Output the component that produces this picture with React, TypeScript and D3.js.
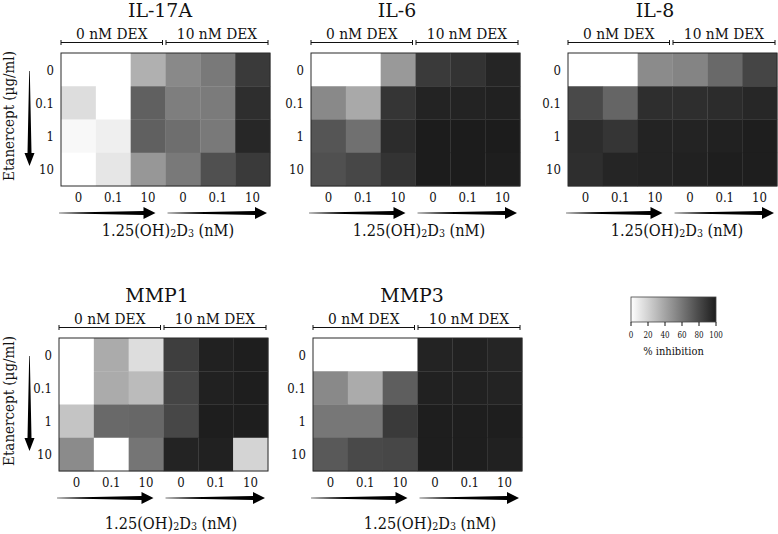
import React from "react";
import * as d3 from "d3";

// ---------- data ----------
const rowLabels = ["0", "0.1", "1", "10"]; // Etanercept (µg/ml)
const colLabels = ["0", "0.1", "10", "0", "0.1", "10"]; // 1.25(OH)2D3 (nM)
const dexGroups = ["0 nM DEX", "10 nM DEX"];
const legendTicks = [0, 20, 40, 60, 80, 100];

// % inhibition, rows = etanercept, cols = D3 within DEX groups
const il17a = [
  [0, 0, 35, 52, 59, 87],
  [15, 0, 70, 57, 58, 92],
  [3, 7, 70, 64, 59, 95],
  [0, 11, 46, 59, 77, 87],
];
const il6 = [
  [0, 0, 45, 87, 90, 96],
  [52, 38, 89, 97, 97, 98],
  [75, 63, 93, 100, 100, 100],
  [77, 81, 90, 100, 100, 99],
];
const il8 = [
  [0, 0, 51, 54, 66, 82],
  [80, 68, 92, 92, 93, 95],
  [93, 89, 97, 97, 98, 99],
  [92, 96, 97, 98, 99, 99],
];
const mmp1 = [
  [0, 37, 15, 85, 98, 99],
  [0, 37, 30, 82, 98, 99],
  [26, 66, 67, 81, 99, 99],
  [51, 0, 61, 97, 98, 19],
];
const mmp3 = [
  [0, 0, 0, 97, 98, 96],
  [52, 37, 71, 98, 98, 97],
  [60, 60, 87, 99, 99, 99],
  [73, 80, 81, 99, 99, 98],
];

const panelNames = ["IL-17A", "IL-6", "IL-8", "MMP1", "MMP3"];
const panelValues = [il17a, il6, il8, mmp1, mmp3];

// ---------- layout ----------
const W = 778;
const H = 534;
const cellW = 209 / 6;
const cellH = 133 / 4;
const layout = [
  { x: 61, y: 53, titleX: 160, axisX: 168, axisDy: 183, showY: true },
  { x: 311, y: 53, titleX: 397, axisX: 419, axisDy: 183, showY: false },
  { x: 568, y: 53, titleX: 655, axisX: 677, axisDy: 183, showY: false },
  { x: 59, y: 338, titleX: 157, axisX: 171, axisDy: 191, showY: true },
  { x: 313, y: 338, titleX: 412, axisX: 430, axisDy: 191, showY: false },
];

const FONT = '"DejaVu Serif", "Liberation Serif", serif';
const INK = "#111";

const color = d3
  .scaleLinear<string>()
  .domain([0, 100])
  .range(["#ffffff", "#1c1c1c"])
  .interpolate(d3.interpolateRgb);

function hArrow(x1: number, x2: number, y: number) {
  const hl = 12;
  const hh = 6;
  const xh = x2 - hl;
  return `M${x1},${y - 0.3} L${xh},${y - 2} L${xh},${y - hh} L${x2},${y} L${xh},${y + hh} L${xh},${y + 2} L${x1},${y + 0.3} Z`;
}
function vArrow(x: number, y1: number, y2: number) {
  const hl = 13;
  const hh = 5;
  const yh = y2 - hl;
  return `M${x - 0.3},${y1} L${x - 2},${yh} L${x - hh},${yh} L${x},${y2} L${x + hh},${yh} L${x + 2},${yh} L${x + 0.3},${y1} Z`;
}

type TProps = {
  x: number;
  y: number;
  size: number;
  sx?: number;
  anchor?: "start" | "middle" | "end";
  rotate?: number;
  children: React.ReactNode;
};
function T({ x, y, size, sx = 1, anchor = "middle", rotate, children }: TProps) {
  const tr = `translate(${x},${y})${rotate ? ` rotate(${rotate})` : ""} scale(${sx},1)`;
  return (
    <text transform={tr} textAnchor={anchor} fontSize={size} fill={INK} style={{ fontFamily: FONT }}>
      {children}
    </text>
  );
}

function Panel({ idx }: { idx: number }) {
  const L = layout[idx];
  const values = panelValues[idx];
  const w = cellW * colLabels.length;
  const h = cellH * rowLabels.length;
  const xs = d3
    .scaleBand<number>()
    .domain(d3.range(colLabels.length))
    .range([L.x, L.x + w]);
  const ys = d3
    .scaleBand<number>()
    .domain(d3.range(rowLabels.length))
    .range([L.y, L.y + h]);
  const mid = L.x + w / 2;
  const brackets = [
    [L.x, mid - 3],
    [mid + 0.5, L.x + w - 2],
  ];
  const arrows = [
    [L.x - 2, mid - 10],
    [mid + 2, L.x + w - 3],
  ];
  return (
    <g>
      <T x={L.titleX} y={L.y - 36} size={18} sx={1.05}>
        {panelNames[idx]}
      </T>
      {brackets.map(([a, b], i) => (
        <g key={"b" + i}>
          <line x1={a} x2={b} y1={L.y - 10.5} y2={L.y - 10.5} stroke={INK} strokeWidth={1} />
          <line x1={a} x2={a} y1={L.y - 13} y2={L.y - 8} stroke={INK} strokeWidth={1} />
          <line x1={b} x2={b} y1={L.y - 13} y2={L.y - 8} stroke={INK} strokeWidth={1} />
          <T x={(a + b) / 2} y={L.y - 14} size={15} sx={0.92}>
            {dexGroups[i]}
          </T>
        </g>
      ))}
      {values.map((row, r) =>
        row.map((v, c) => (
          <rect
            key={r + "-" + c}
            x={xs(c)}
            y={ys(r)}
            width={xs.bandwidth() + 0.3}
            height={ys.bandwidth() + 0.3}
            fill={color(v)}
          />
        ))
      )}
      <rect x={L.x} y={L.y} width={w} height={h} fill="none" stroke="#2a2a2a" strokeWidth={1} />
      {rowLabels.map((t, r) => (
        <T
          key={"r" + r}
          x={L.x - 7}
          y={(ys(r) as number) + ys.bandwidth() / 2 + 5}
          size={13.5}
          sx={0.87}
          anchor="end"
        >
          {t}
        </T>
      ))}
      {colLabels.map((t, c) => (
        <T
          key={"c" + c}
          x={(xs(c) as number) + xs.bandwidth() / 2}
          y={L.y + h + 16}
          size={13.5}
          sx={0.87}
        >
          {t}
        </T>
      ))}
      {arrows.map(([a, b], i) => (
        <path key={"a" + i} d={hArrow(a, b, L.y + 160)} fill="#000" />
      ))}
      <T x={L.axisX} y={L.y + L.axisDy} size={16} sx={0.91}>
        1.25(OH)
        <tspan fontSize={10.5} dy={1}>2</tspan>
        <tspan dy={-1}>D</tspan>
        <tspan fontSize={10.5} dy={1}>3</tspan>
        <tspan dy={-1}> (nM)</tspan>
      </T>
      {L.showY && (
        <g>
          <path d={vArrow(29.5, L.y + 18, L.y + 113)} fill="#000" />
          <T x={14} y={L.y + 63} rotate={-90} size={15} sx={0.9}>
            Etanercept (µg/ml)
          </T>
        </g>
      )}
    </g>
  );
}

function Legend() {
  const x0 = 631;
  const x1 = 716;
  const y0 = 297;
  const y1 = 322;
  const sx = d3.scaleLinear().domain([0, 100]).range([x0, x1]);
  const stops = d3.range(0, 101, 10);
  return (
    <g>
      <defs>
        <linearGradient id="lg" x1="0" x2="1" y1="0" y2="0">
          {stops.map((s) => (
            <stop key={s} offset={`${s}%`} stopColor={color(s)} />
          ))}
        </linearGradient>
      </defs>
      <rect x={x0} y={y0} width={x1 - x0} height={y1 - y0} fill="url(#lg)" stroke="#444" strokeWidth={0.8} />
      {legendTicks.map((t) => (
        <g key={t}>
          <line x1={sx(t)} x2={sx(t)} y1={y1} y2={y1 + 4} stroke={INK} strokeWidth={1} />
          <T x={sx(t)} y={y1 + 16} size={9} sx={0.8}>
            {t}
          </T>
        </g>
      ))}
      <T x={(x0 + x1) / 2} y={355} size={11} sx={0.9}>
        % inhibition
      </T>
    </g>
  );
}

export default function App() {
  return (
    <svg
      width={W}
      height={H}
      viewBox={`0 0 ${W} ${H}`}
      style={{ position: "absolute", left: 0, top: 0, background: "#fff", fontFamily: FONT }}
    >
      <rect x={0} y={0} width={W} height={H} fill="#fff" />
      {panelNames.map((_, i) => (
        <Panel key={i} idx={i} />
      ))}
      <Legend />
    </svg>
  );
}
